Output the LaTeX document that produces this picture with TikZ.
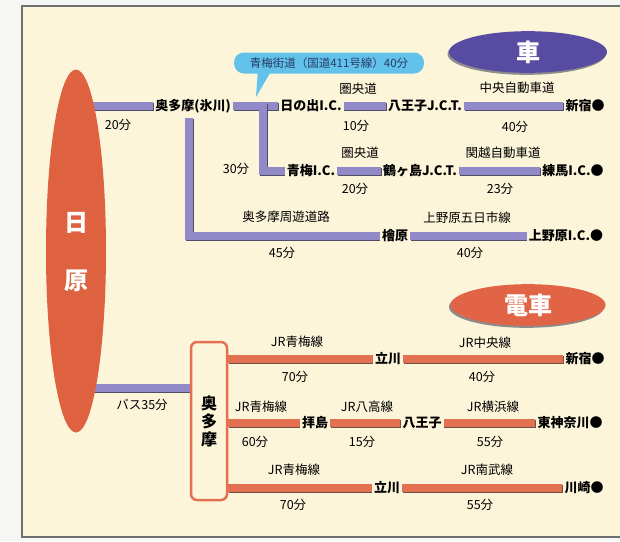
\documentclass[tikz,border=0pt]{standalone}
\usepackage{fontspec}
\setmainfont{Noto Sans CJK JP}
\usetikzlibrary{shapes.geometric,calc}
\pgfdeclarelayer{bg}
\pgfdeclarelayer{bars}
\pgfsetlayers{bg,bars,main}
\definecolor{cream}{RGB}{252,245,218}
\definecolor{outside}{RGB}{246,246,244}
\definecolor{framec}{RGB}{110,110,110}
\definecolor{carc}{RGB}{146,138,200}
\definecolor{carshadow}{RGB}{80,78,100}
\definecolor{trc}{RGB}{228,112,82}
\definecolor{trshadow}{RGB}{110,80,70}
\definecolor{harac}{RGB}{222,98,64}
\definecolor{kurumac}{RGB}{88,76,162}
\definecolor{densyac}{RGB}{226,100,70}
\definecolor{bubblec}{RGB}{98,194,234}
\definecolor{bubbletext}{RGB}{40,60,105}
\tikzset{
  stn/.style={font=\bfseries\fontsize{13}{13}\selectfont, inner sep=2pt, text=black},
  lbl/.style={font=\fontsize{12.5}{13}\selectfont, inner sep=1pt, text=black},
  carbar/.style={line width=7.5pt, draw=carc,
    preaction={draw=carshadow, line width=8pt, transform canvas={yshift=-1.3pt, xshift=0.6pt}}},
  trbar/.style={line width=7.5pt, draw=trc,
    preaction={draw=trshadow, line width=8pt, transform canvas={yshift=-1.3pt, xshift=0.6pt}}},
  bigtitle/.style={ellipse, text=white, font=\bfseries\fontsize{24}{24}\selectfont,
    preaction={fill=black!45, transform canvas={xshift=-1.5pt, yshift=-2pt}}},
}
\begin{document}
\begin{tikzpicture}[x=1pt,y=-1pt]
\clip (0,0) rectangle (620,541);
\begin{pgfonlayer}{bg}
\fill[outside] (0,0) rectangle (620,541);
\fill[cream] (22,6) rectangle (640,537);
\draw[framec, line width=1.2pt] (640,6) -- (22,6) -- (22,537) -- (640,537);
\end{pgfonlayer}

% origin
\node[ellipse, fill=harac, minimum width=60, minimum height=363, inner sep=0] (hara) at (76,251) {};
\node[text=white, font=\bfseries\fontsize{24}{24}\selectfont] (hi) at (76,223) {日};
\node[text=white, font=\bfseries\fontsize{24}{24}\selectfont] (bara) at (76,281) {原};

% title ellipses
\node[bigtitle, fill=kurumac, minimum width=158, minimum height=40] (kuruma) at (528,52) {車};
\node[bigtitle, fill=densyac, minimum width=155, minimum height=38] (densya) at (528,305) {電車};

% car stations
\node[stn] (hikawa) at (193,106) {奥多摩(氷川)};
\node[stn] (hinode) at (311,106) {日の出I.C.};
\node[stn] (hachiC) at (425,106) {八王子J.C.T.};
\node[stn] (shinjukuC) at (585,106) {新宿●};
\node[stn] (oume) at (311,171) {青梅I.C.};
\node[stn] (tsuru) at (420,171) {鶴ヶ島J.C.T.};
\node[stn] (nerima) at (573,171) {練馬I.C.●};
\node[stn] (hinohara) at (395,236) {檜原};
\node[stn] (uenohara) at (566,236) {上野原I.C.●};
\coordinate (j1) at (263,103);
\coordinate (j2) at (189,118);

% callout
\node[fill=bubblec, rounded corners=10pt, minimum width=190, minimum height=21, inner sep=2pt,
      text=bubbletext, font=\fontsize{11.5}{11.5}\selectfont] (bub) at (329,63) {青梅街道（国道411号線）40分};
\coordinate (tip) at (256,97);
\fill[bubblec] ($(bub.south west)+(24,-2)$) -- (tip) -- ($(bub.south west)+(37,-2)$) -- cycle;

% car labels
\node[lbl] (t20) at (118,125) {20分};
\node[lbl] (kenou1) at (358,89) {圏央道};
\node[lbl] (t10) at (356,126) {10分};
\node[lbl] (chuo) at (517,88) {中央自動車道};
\node[lbl] (t40a) at (515,127) {40分};
\node[lbl] (t30) at (236,169) {30分};
\node[lbl] (kenou2) at (360,153) {圏央道};
\node[lbl] (t20b) at (355,189) {20分};
\node[lbl] (kanetsu) at (503,153) {関越自動車道};
\node[lbl] (t23) at (500,189) {23分};
\node[lbl] (shuyu) at (286,217) {奥多摩周遊道路};
\node[lbl] (t45) at (282,253) {45分};
\node[lbl] (itsuka) at (467,218) {上野原五日市線};
\node[lbl] (t40b) at (470,253) {40分};

% train section
\node[draw=trc, line width=2.5pt, rounded corners=6pt, fill=cream, minimum width=36, minimum height=158,
      inner sep=0, align=center, font=\bfseries\fontsize{16}{18}\selectfont] (box) at (209,421) {奥\\多\\摩};
\coordinate (bus) at (191,388);
\node[stn] (tachiA) at (388,359) {立川};
\node[stn] (shinjukuT) at (585,359) {新宿●};
\node[stn] (haijima) at (315,423) {拝島};
\node[stn] (hachiT) at (422,423) {八王子};
\node[stn] (higashi) at (570,423) {東神奈川●};
\node[stn] (tachiC) at (387,488) {立川};
\node[stn] (kawasaki) at (584,488) {川崎●};

\node[lbl] (bus35) at (142,405) {バス35分};
\node[lbl] (oumeA) at (297,342) {JR青梅線};
\node[lbl] (t70a) at (295,377) {70分};
\node[lbl] (chuoT) at (485,343) {JR中央線};
\node[lbl] (t40c) at (482,377) {40分};
\node[lbl] (oumeB) at (261,407) {JR青梅線};
\node[lbl] (t60) at (255,442) {60分};
\node[lbl] (hachiko) at (367,407) {JR八高線};
\node[lbl] (t15) at (362,442) {15分};
\node[lbl] (yokohama) at (493,407) {JR横浜線};
\node[lbl] (t55a) at (490,442) {55分};
\node[lbl] (oumeC) at (294,470) {JR青梅線};
\node[lbl] (t70b) at (293,505) {70分};
\node[lbl] (nambu) at (487,470) {JR南武線};
\node[lbl] (t55b) at (480,505) {55分};

\begin{pgfonlayer}{bars}
\draw[carbar] (hara.center |- hikawa.west) -- (hikawa.west);
\draw[carbar] (hikawa.east) -- (hinode.west);
\draw[carbar] (j1) |- (oume.west);
\draw[carbar] (hinode.east) -- (hachiC.west);
\draw[carbar] (hachiC.east) -- (shinjukuC.west);
\draw[carbar] (oume.east) -- (tsuru.west);
\draw[carbar] (tsuru.east) -- (nerima.west);
\draw[carbar] (j2) |- (hinohara.west);
\draw[carbar] (hinohara.east) -- (uenohara.west);
\draw[carbar] (hara.center |- bus) -- (bus);
\draw[trbar] (box.east |- tachiA.west) -- (tachiA.west);
\draw[trbar] (tachiA.east) -- (shinjukuT.west);
\draw[trbar] (box.east |- haijima.west) -- (haijima.west);
\draw[trbar] (haijima.east) -- (hachiT.west);
\draw[trbar] (hachiT.east) -- (higashi.west);
\draw[trbar] (box.east |- tachiC.west) -- (tachiC.west);
\draw[trbar] (tachiC.east) -- (kawasaki.west);
\end{pgfonlayer}
\end{tikzpicture}
\end{document}
